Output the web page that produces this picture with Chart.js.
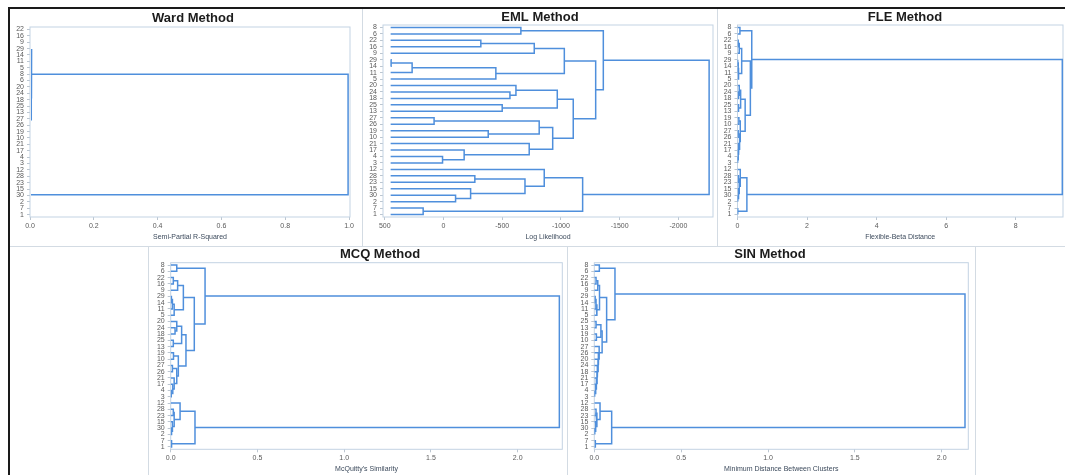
<!DOCTYPE html>
<html>
<head>
<meta charset="utf-8">
<script src="https://cdn.jsdelivr.net/npm/chart.js@4.4.1/dist/chart.umd.min.js"></script>
<style>
  body { margin: 0; background: #fff; }
  #page { position: relative; width: 1065px; height: 475px; overflow: hidden; background: #fff; }
  #page canvas { position: absolute; }
  .rule { position: absolute; background: #d3dbe3; }
  .frame { position: absolute; background: #1a1a1a; }
</style>
</head>
<body>
<div id="page">
  <div class="frame" style="left:8px;top:7px;width:1057px;height:2px"></div>
  <div class="frame" style="left:8px;top:7px;width:2px;height:468px"></div>
  <div class="rule" style="left:362px;top:9px;width:1px;height:237px"></div>
  <div class="rule" style="left:717px;top:9px;width:1px;height:237px"></div>
  <div class="rule" style="left:10px;top:246px;width:1055px;height:1px"></div>
  <div class="rule" style="left:148px;top:246px;width:1px;height:229px"></div>
  <div class="rule" style="left:567px;top:246px;width:1px;height:229px"></div>
  <div class="rule" style="left:975px;top:246px;width:1px;height:229px"></div>
  <canvas id="ward"></canvas>
  <canvas id="eml"></canvas>
  <canvas id="fle"></canvas>
  <canvas id="mcq"></canvas>
  <canvas id="sin"></canvas>
</div>
<script>
// leaf order (top to bottom) and merges [name, left, right, height]
const wardOrder = [22, 16, 9, 29, 14, 11, 5, 8, 6, 20, 24, 18, 25, 13, 27, 26, 19, 10, 21, 17, 4, 3, 12, 28, 23, 15, 30, 2, 7, 1];
const wardMerges = [
  ["b", 22, 16, 0], ["c", "b", 9, 0], ["d", 29, 14, 0], ["e", "d", 11, 0], ["f", "e", 5, 0], ["g", "c", "f", 0],
  ["a", 8, 6, 0],
  ["h", 24, 18, 0], ["i", 20, "h", 0], ["j", 25, 13, 0], ["k", "i", "j", 0],
  ["l", 27, 26, 0], ["m", 19, 10, 0], ["n", "l", "m", 0], ["o", 4, 3, 0], ["p", 17, "o", 0], ["q", 21, "p", 0],
  ["r", "n", "q", 0], ["s", "k", "r", 0.001], ["t", "a", "s", 0.004], ["u", "g", "t", 0.005],
  ["v", 28, 23, 0], ["w", 30, 2, 0], ["x", 15, "w", 0], ["y", "v", "x", 0], ["z", 12, "y", 0],
  ["aa", 7, 1, 0], ["ab", "z", "aa", 0.001],
  ["root", "u", "ab", 0.997]
];
const wardTicks = [0, 0.2, 0.4, 0.6, 0.8, 1.0];
const wardTickLabels = ["0.0", "0.2", "0.4", "0.6", "0.8", "1.0"];

const emlOrder = [8, 6, 22, 16, 9, 29, 14, 11, 5, 20, 24, 18, 25, 13, 27, 26, 19, 10, 21, 17, 4, 3, 12, 28, 23, 15, 30, 2, 7, 1];
const emlMerges = [
  ["a", 8, 6, -659],
  ["b", 22, 16, -318], ["c", "b", 9, -773], ["d", 29, 14, 446], ["e", "d", 11, 267], ["f", "e", 5, -446], ["g", "c", "f", -1029],
  ["h", 24, 18, -566], ["i", 20, "h", -617], ["j", 25, 13, -500], ["k", "i", "j", -969],
  ["l", 27, 26, 80], ["m", 19, 10, -381], ["n", "l", "m", -815],
  ["o", 4, 3, 8], ["p", 17, "o", -176], ["q", 21, "p", -730], ["r", "n", "q", -930],
  ["s", "k", "r", -1105], ["t", "g", "s", -1296], ["u", "a", "t", -1361],
  ["v", 28, 23, -267], ["w", 30, 2, -103], ["x", 15, "w", -231], ["y", "v", "x", -694], ["z", 12, "y", -858],
  ["aa", 7, 1, 173], ["ab", "z", "aa", -1185],
  ["root", "u", "ab", -2262]
];
const emlTicks = [500, 0, -500, -1000, -1500, -2000];
const emlTickLabels = ["500", "0", "-500", "-1000", "-1500", "-2000"];

const fleOrder = [8, 6, 22, 16, 9, 29, 14, 11, 5, 20, 24, 18, 25, 13, 19, 10, 27, 26, 21, 17, 4, 3, 12, 28, 23, 15, 30, 2, 7, 1];
const fleMerges = [
  ["a", 8, 6, 0.07],
  ["b", 22, 16, 0.02], ["c", "b", 9, 0.05], ["d", 29, 14, 0.01], ["e", "d", 11, 0.02], ["f", "e", 5, 0.03], ["g", "c", "f", 0.12],
  ["h", 24, 18, 0.03], ["i", 20, "h", 0.05], ["j", 25, 13, 0.03], ["k", "i", "j", 0.09],
  ["l", 19, 10, 0.04], ["m", 27, 26, 0.02], ["o", 4, 3, 0.005], ["p", 17, "o", 0.02], ["q", 21, "p", 0.04],
  ["n", "m", "q", 0.06], ["r", "l", "n", 0.08],
  ["s", "k", "r", 0.22], ["t", "g", "s", 0.37], ["u", "a", "t", 0.41],
  ["v", 28, 23, 0.03], ["w", 30, 2, 0.01], ["x", 15, "w", 0.03], ["y", "v", "x", 0.05], ["z", 12, "y", 0.08],
  ["aa", 7, 1, 0.01], ["ab", "z", "aa", 0.27],
  ["root", "u", "ab", 9.34]
];
const fleTicks = [0, 2, 4, 6, 8];
const fleTickLabels = ["0", "2", "4", "6", "8"];

const mcqOrder = [8, 6, 22, 16, 9, 29, 14, 11, 5, 20, 24, 18, 25, 13, 19, 10, 27, 26, 21, 17, 4, 3, 12, 28, 23, 15, 30, 2, 7, 1];
const mcqMerges = [
  ["a", 8, 6, 0.035],
  ["b", 22, 16, 0.015], ["c", "b", 9, 0.04], ["d", 29, 14, 0.004], ["e", "d", 11, 0.01], ["f", "e", 5, 0.02], ["g", "c", "f", 0.073],
  ["h", 24, 18, 0.025], ["i", 20, "h", 0.035], ["j", 25, 13, 0.015], ["k", "i", "j", 0.063],
  ["l", 19, 10, 0.016], ["m", 27, 26, 0.01], ["o", 4, 3, 0.003], ["p", 17, "o", 0.012], ["q", 21, "p", 0.02],
  ["n", "m", "q", 0.035], ["r", "l", "n", 0.044],
  ["s", "k", "r", 0.088], ["t", "g", "s", 0.136], ["u", "a", "t", 0.198],
  ["v", 28, 23, 0.015], ["w", 30, 2, 0.005], ["x", 15, "w", 0.01], ["y", "v", "x", 0.02], ["z", 12, "y", 0.054],
  ["aa", 7, 1, 0.005], ["ab", "z", "aa", 0.14],
  ["root", "u", "ab", 2.24]
];
const mcqTicks = [0, 0.5, 1.0, 1.5, 2.0];
const mcqTickLabels = ["0.0", "0.5", "1.0", "1.5", "2.0"];

const sinOrder = [8, 6, 22, 16, 9, 29, 14, 11, 5, 25, 13, 19, 10, 27, 26, 20, 24, 18, 21, 17, 4, 3, 12, 28, 23, 15, 30, 2, 7, 1];
const sinMerges = [
  ["a", 8, 6, 0.029],
  ["b", 22, 16, 0.01], ["c", "b", 9, 0.02], ["d", 29, 14, 0.005], ["e", "d", 11, 0.01], ["f", "e", 5, 0.015], ["g", "c", "f", 0.03],
  ["h", 25, 13, 0.01], ["i", 19, 10, 0.012], ["j", "h", "i", 0.038],
  ["o", 4, 3, 0.003], ["p", 17, "o", 0.008], ["q", 21, "p", 0.012], ["q1", 18, "q", 0.016], ["q2", 24, "q1", 0.019],
  ["q3", 20, "q2", 0.022], ["q4", 26, "q3", 0.025], ["q5", 27, "q4", 0.028],
  ["k", "j", "q5", 0.045], ["t", "g", "k", 0.071], ["u", "a", "t", 0.119],
  ["v", 28, 23, 0.01], ["w", 30, 2, 0.004], ["x", 15, "w", 0.008], ["y", "v", "x", 0.015], ["z", 12, "y", 0.033],
  ["aa", 7, 1, 0.006], ["ab", "z", "aa", 0.1],
  ["root", "u", "ab", 2.134]
];
const sinTicks = [0, 0.5, 1.0, 1.5, 2.0];
const sinTickLabels = ["0.0", "0.5", "1.0", "1.5", "2.0"];

Chart.defaults.font.family = "'Liberation Sans', Arial, sans-serif";
Chart.defaults.font.lineHeight = 1.2;

const lineColor = "#4f8fdc";
const labelColor = "#5a5a5a";
const markColor = "#bcc6d0";

// U-shaped segments, leaf rows are 1..30 from top
const buildSegments = (order, merges, base) => {
  const pos = {};
  const hgt = {};
  order.forEach((lab, i) => {
    pos[lab] = i + 1;
    hgt[lab] = base;
  });
  const segs = [];
  merges.forEach(([name, a, b, h]) => {
    segs.push([
      { x: hgt[a], y: pos[a] },
      { x: h, y: pos[a] },
      { x: h, y: pos[b] },
      { x: hgt[b], y: pos[b] },
    ]);
    pos[name] = (pos[a] + pos[b]) / 2;
    hgt[name] = h;
  });
  return segs;
};

const boxPlugin = {
  id: "box",
  beforeDatasetsDraw(chart) {
    const { ctx, chartArea: a } = chart;
    ctx.save();
    ctx.strokeStyle = "#c3d3e3";
    ctx.lineWidth = 1;
    ctx.strokeRect(a.left, a.top, a.right - a.left, a.bottom - a.top);
    ctx.restore();
  },
};

const dendro = (id, cfg) => {
  const b = cfg.box;
  // widths of the left axis and a blank right axis, so the title sits where it should
  const D = 2 * cfg.titleX - b.left - b.right;
  let yW = 20,
    rW = D + 20;
  if (rW < 0) {
    yW = -D;
    rW = 0;
  }
  const L = Math.floor(b.left - yW - 2);
  const padL = b.left - yW - L;
  const W = Math.ceil(b.right + rW + 2 - L);
  const padR = L + W - rW - b.right;
  const T = Math.floor(cfg.titleY - 7.8);
  let pt = cfg.titleY - 7.8 - T;
  let pb = b.top - T - pt - 15.6;
  if (pb < 0) {
    pt = Math.max(0, pt + pb);
    pb = 0;
  }
  const xH = 24.2;
  const H = Math.ceil(b.bottom + xH + 1 - T);
  const padB = T + H - xH - b.bottom;

  const canvas = document.getElementById(id);
  canvas.width = W;
  canvas.height = H;
  canvas.style.left = L + "px";
  canvas.style.top = T + "px";
  canvas.style.width = W + "px";
  canvas.style.height = H + "px";

  const clipLeft = cfg.clipLeft !== undefined ? cfg.clipLeft : 0;
  const datasets = buildSegments(cfg.order, cfg.merges, cfg.base).map((seg) => ({
    data: seg,
    showLine: true,
    borderColor: lineColor,
    borderWidth: 1.5,
    pointRadius: 0,
    fill: false,
    clip: { left: clipLeft, top: 4, right: 4, bottom: 4 },
  }));

  new Chart(canvas, {
    type: "scatter",
    data: { datasets },
    options: {
      responsive: false,
      animation: false,
      events: [],
      layout: { padding: { left: padL, right: padR, top: 0, bottom: padB } },
      plugins: {
        legend: { display: false },
        tooltip: { enabled: false },
        title: {
          display: true,
          text: cfg.title,
          color: "#1b1b1b",
          font: { size: 13, weight: "bold" },
          padding: { top: pt, bottom: pb },
        },
      },
      scales: {
        x: {
          type: "linear",
          min: cfg.min,
          max: cfg.max,
          reverse: !!cfg.reverse,
          afterBuildTicks: (s) => {
            s.ticks = cfg.ticks.map((v) => ({ value: v }));
          },
          afterFit: (s) => {
            s.height = xH;
          },
          ticks: {
            callback: (v, i) => cfg.tickLabels[i],
            font: { size: 7 },
            color: labelColor,
            padding: 2,
            maxRotation: 0,
            autoSkip: false,
          },
          grid: { display: true, drawOnChartArea: false, tickLength: 3, color: markColor },
          border: { display: false },
          title: {
            display: true,
            text: cfg.xTitle,
            color: "#3c4a5c",
            font: { size: 7 },
            padding: 0,
          },
        },
        y: {
          type: "linear",
          min: 0.62,
          max: 30.38,
          reverse: true,
          afterBuildTicks: (s) => {
            s.ticks = cfg.order.map((_, i) => ({ value: i + 1 }));
          },
          afterFit: (s) => {
            s.width = yW;
          },
          ticks: {
            callback: (v) => String(cfg.order[Math.round(v) - 1]),
            font: { size: 7 },
            color: labelColor,
            padding: 3,
            autoSkip: false,
          },
          grid: { display: true, drawOnChartArea: false, tickLength: 3, color: markColor },
          border: { display: false },
        },
        r: {
          type: "linear",
          position: "right",
          display: rW > 0,
          ticks: { display: false },
          grid: { display: false },
          border: { display: false },
          afterFit: (s) => {
            s.width = rW;
          },
        },
      },
    },
    plugins: [boxPlugin],
  });
};

dendro("ward", {
  order: wardOrder, merges: wardMerges, base: 0, min: 0, max: 1.003,
  ticks: wardTicks, tickLabels: wardTickLabels, clipLeft: -1,
  title: "Ward Method", xTitle: "Semi-Partial R-Squared",
  box: { left: 30, right: 350, top: 27, bottom: 217 }, titleX: 193, titleY: 18.3,
});
dendro("eml", {
  order: emlOrder, merges: emlMerges, base: 450, min: -2295, max: 515, reverse: true,
  ticks: emlTicks, tickLabels: emlTickLabels,
  title: "EML Method", xTitle: "Log Likelihood",
  box: { left: 383, right: 713, top: 25, bottom: 217 }, titleX: 540, titleY: 17.7,
});
dendro("fle", {
  order: fleOrder, merges: fleMerges, base: 0, min: 0, max: 9.36,
  ticks: fleTicks, tickLabels: fleTickLabels,
  title: "FLE Method", xTitle: "Flexible-Beta Distance",
  box: { left: 737.5, right: 1063, top: 25, bottom: 217 }, titleX: 905, titleY: 17.7,
});
dendro("mcq", {
  order: mcqOrder, merges: mcqMerges, base: 0, min: 0, max: 2.257,
  ticks: mcqTicks, tickLabels: mcqTickLabels,
  title: "MCQ Method", xTitle: "McQuitty's Similarity",
  box: { left: 170.7, right: 562.3, top: 262.7, bottom: 449.3 }, titleX: 380, titleY: 255,
});
dendro("sin", {
  order: sinOrder, merges: sinMerges, base: 0, min: 0, max: 2.153,
  ticks: sinTicks, tickLabels: sinTickLabels,
  title: "SIN Method", xTitle: "Minimum Distance Between Clusters",
  box: { left: 594.3, right: 968.3, top: 262.7, bottom: 449.3 }, titleX: 770, titleY: 255,
});
</script>
</body>
</html>
